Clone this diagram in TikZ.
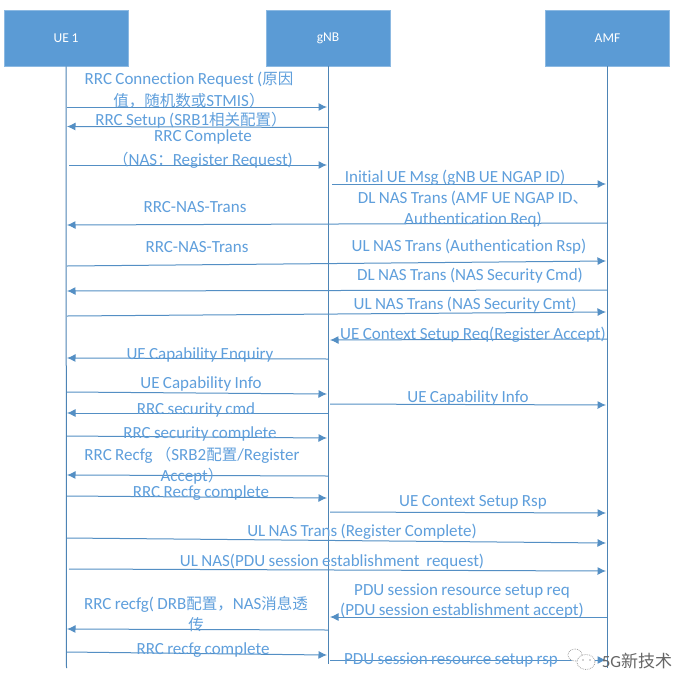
\documentclass[tikz,border=0pt]{standalone}
\usepackage{fontspec}
\setmainfont{Carlito}[Ligatures=CommonOff,WordSpace=0.88]
\newfontfamily\cjk{Noto Sans CJK SC}
\usetikzlibrary{arrows.meta}
\definecolor{boxblue}{HTML}{5B9BD5}
\definecolor{inkblue}{HTML}{5F9FDC}
\newcommand{\zh}[1]{{\cjk\fontsize{15.5}{18}\selectfont #1}}
\tikzset{
  actor/.style={draw=boxblue!70!white,line width=.6pt,fill=boxblue,text=white,minimum width=124pt,minimum height=56pt,inner sep=0pt,font=\fontsize{13.5}{15}\selectfont},
  life/.style={draw=boxblue!85!black,line width=1pt},
  msgline/.style={draw=boxblue!92!black,line width=1pt,-{Latex[length=8.5pt,width=8pt]}},
  msgtext/.style={text=inkblue,inner sep=0pt,align=center,yshift=-2pt,font=\fontsize{17}{21.5}\selectfont},
  wmtext/.style={text=gray!80!black,inner sep=0pt,font=\fontsize{17}{18}\selectfont}
}
\newcommand{\msg}[5]{%
  \coordinate (s#1) at #2; \coordinate (e#1) at #3;
  \draw[msgline] (s#1) -- (e#1);
  \node[msgtext] (t#1) at #4 {#5};}
\begin{document}
\begin{tikzpicture}[x=1pt,y=-1pt]
\useasboundingbox (0,0) rectangle (695,691);
\fill[white] (0,0) rectangle (695,691);
\node[actor] (ue) at (66,38) {UE 1};
\node[actor] (gnb) at (328,38) {gNB};
\node[actor] (amf) at (607.5,38) {AMF};
\coordinate (ueend) at (66.5,668);
\coordinate (gnbend) at (328,664);
\coordinate (amfend) at (607.5,668);
\draw[life] (ue.south) -- (ueend);
\draw[life] (gnb.south) -- (gnbend);
\draw[life] (amf.south) -- (amfend);
\msg{1}{(67,107)}{(327,107)}{(189,88)}{RRC Connection Request (\zh{原因}\\[0pt]\zh{值，随机数或}STMIS\zh{）}}
\msg{2}{(328,127.5)}{(67,126.5)}{(191,118)}{RRC Setup (SRB1\zh{相关配置}\zh{）}}
\msg{3}{(69,165)}{(327,165)}{(203,147)}{RRC Complete\\[2pt]\zh{（}NAS\zh{：}Register Request)}
\msg{4}{(332,184)}{(606,184)}{(455,176)}{Initial UE Msg (gNB UE NGAP ID)}
\msg{5}{(607,223)}{(67,225)}{(473,207)}{DL NAS Trans (AMF UE NGAP ID\zh{、}\\Authentication Req)}
\node[msgtext] (t5b) at (195,205) {RRC-NAS-Trans};
\msg{6}{(67,266)}{(606,261)}{(469,245)}{UL NAS Trans (Authentication Rsp)}
\node[msgtext] (t6b) at (197,245) {RRC-NAS-Trans};
\msg{7}{(607,290)}{(67,291)}{(470,274)}{DL NAS Trans (NAS Security Cmd)}
\msg{8}{(67,316)}{(606,312)}{(465,303)}{UL NAS Trans (NAS Security Cmt)}
\msg{9}{(607,339)}{(330,340)}{(473,333)}{UE Context Setup Req(Register Accept)}
\msg{10}{(328,359)}{(67,358)}{(200,353)}{UE Capability Enquiry}
\msg{11}{(67,392)}{(327,394)}{(201,382)}{UE Capability Info}
\msg{12}{(330,404)}{(606,405)}{(468,396)}{UE Capability Info}
\msg{13}{(328,413)}{(67,413)}{(196,408)}{RRC security cmd}
\msg{14}{(67,436)}{(327,438)}{(200,432)}{RRC security complete}
\msg{15}{(328,476)}{(67,475)}{(192,463.5)}{RRC Recfg \zh{（}SRB2\zh{配置}/Register\\[-1pt]Accept\zh{）}}
\msg{16}{(67,496)}{(327,498)}{(201,491)}{RRC Recfg complete}
\msg{17}{(330,512)}{(606,513)}{(473,500)}{UE Context Setup Rsp}
\msg{18}{(67,538)}{(606,543)}{(362,530)}{UL NAS Trans (Register Complete)}
\msg{19}{(69,569)}{(606,571)}{(332,560)}{UL NAS(PDU session establishment\ \ request)}
\msg{20}{(607,617)}{(330,617)}{(462,599)}{PDU session resource setup req\\[-1pt](PDU session establishment accept)}
\msg{21}{(328,630)}{(67,629)}{(196,612)}{RRC recfg( DRB\zh{配置，}NAS\zh{消息透}\\[-1pt]\zh{传}}
\msg{22}{(67,652)}{(327,655)}{(203,648)}{RRC recfg complete}
\msg{23}{(330,660)}{(606,660)}{(451,658)}{PDU session resource setup rsp}
% watermark
\draw[gray!70,densely dotted,line width=.8pt,fill=white] (575,655) ellipse (7pt and 6pt);
\draw[gray!70,densely dotted,line width=.8pt,fill=white] (586,662) ellipse (9pt and 7.5pt);
\fill[gray!70] (583,660) circle (.9pt) (590,660) circle (.9pt);
\node[wmtext] (wm) at (637,661) {5G\cjk{\fontsize{17}{18}\selectfont 新技术}};
\end{tikzpicture}
\end{document}
